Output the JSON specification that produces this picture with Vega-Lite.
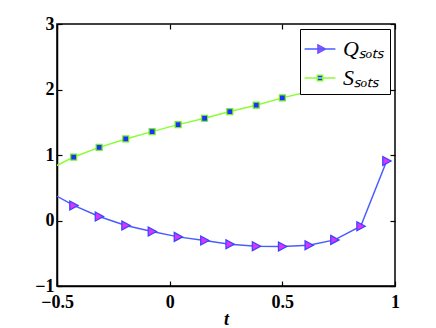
{
  "$schema": "https://vega.github.io/schema/vega-lite/v6.json",
  "width": 338,
  "height": 262,
  "autosize": {"type": "none"},
  "padding": {"left": 57, "top": 24, "right": 41, "bottom": 42},
  "background": "white",
  "config": {
    "view": {"stroke": "black", "strokeWidth": 1.5},
    "axis": {
      "grid": false,
      "domainColor": "black",
      "domainWidth": 1.5,
      "tickColor": "black",
      "tickSize": -5,
      "tickWidth": 1.2,
      "labelFlush": false,
      "labelFont": "Liberation Serif",
      "labelFontWeight": "bold",
      "labelFontSize": 18,
      "labelColor": "black",
      "titleFont": "Liberation Serif",
      "titleFontStyle": "italic",
      "titleFontWeight": "bold",
      "titleFontSize": 18,
      "titleColor": "black"
    }
  },
  "data": {
    "values": [
      {"series": "Q", "t": -0.542, "v": 0.45},
      {"series": "Q", "t": -0.426, "v": 0.23},
      {"series": "Q", "t": -0.313, "v": 0.061},
      {"series": "Q", "t": -0.195, "v": -0.077},
      {"series": "Q", "t": -0.078, "v": -0.168},
      {"series": "Q", "t": 0.0375, "v": -0.25},
      {"series": "Q", "t": 0.155, "v": -0.306},
      {"series": "Q", "t": 0.267, "v": -0.362},
      {"series": "Q", "t": 0.384, "v": -0.393},
      {"series": "Q", "t": 0.5, "v": -0.398},
      {"series": "Q", "t": 0.618, "v": -0.378},
      {"series": "Q", "t": 0.732, "v": -0.296},
      {"series": "Q", "t": 0.848, "v": -0.087},
      {"series": "Q", "t": 0.963, "v": 0.908},
      {"series": "S", "t": -0.542, "v": 0.77},
      {"series": "S", "t": -0.426, "v": 0.969},
      {"series": "S", "t": -0.313, "v": 1.117},
      {"series": "S", "t": -0.195, "v": 1.245},
      {"series": "S", "t": -0.078, "v": 1.357},
      {"series": "S", "t": 0.0375, "v": 1.464},
      {"series": "S", "t": 0.155, "v": 1.561},
      {"series": "S", "t": 0.267, "v": 1.663},
      {"series": "S", "t": 0.384, "v": 1.76},
      {"series": "S", "t": 0.5, "v": 1.872},
      {"series": "S", "t": 0.618, "v": 1.97},
      {"series": "S", "t": 0.732, "v": 2.07},
      {"series": "S", "t": 0.848, "v": 2.17},
      {"series": "S", "t": 0.963, "v": 2.27}
    ]
  },
  "layer": [
    {
      "mark": {"type": "line", "clip": true, "strokeWidth": 1.5},
      "encoding": {
        "x": {
          "field": "t", "type": "quantitative",
          "scale": {"domain": [-0.5, 1], "nice": false, "zero": false},
          "axis": {"values": [-0.5, 0, 0.5, 1], "format": "~g", "title": "t", "labelPadding": 12, "titlePadding": -1}
        },
        "y": {
          "field": "v", "type": "quantitative",
          "scale": {"domain": [-1, 3], "nice": false, "zero": false},
          "axis": {"values": [-1, 0, 1, 2, 3], "format": "d", "title": null, "labelPadding": 8}
        },
        "color": {
          "field": "series", "type": "nominal",
          "scale": {"domain": ["Q", "S"], "range": ["#4a5cff", "#88ff33"]},
          "legend": {
            "title": null,
            "orient": "top-right",
            "offset": 5,
            "padding": 5,
            "rowPadding": 3,
            "fillColor": "white",
            "strokeColor": "black",
            "symbolSize": 784,
            "symbolType": "stroke",
            "labelOffset": 8,
            "labelFont": "Liberation Serif",
            "labelFontStyle": "italic",
            "labelFontSize": 22,
            "labelColor": "black",
            "labelExpr": "datum.value === 'Q' ? 'Q\u209b\u2092\u209c\u209b' : 'S\u209b\u2092\u209c\u209b'",
            "encode": {
              "symbols": {
                "update": {
                  "shape": {"signal": "datum.value === 'Q' ? 'M-1.1,0H1.1M-0.15,-0.3L0.4,0L-0.15,0.3Z' : 'M-1.1,0H1.1M-0.2,-0.2H0.2V0.2H-0.2Z'"},
                  "fill": {"signal": "datum.value === 'Q' ? '#dd33ff' : '#1a33ff'"},
                  "stroke": {"signal": "datum.value === 'Q' ? '#3344ff' : '#77ee22'"},
                  "strokeWidth": {"value": 1.3},
                  "opacity": {"value": 1}
                }
              }
            }
          }
        }
      }
    },
    {
      "mark": {"type": "point", "filled": true, "clip": true, "size": 36, "strokeWidth": 1.2, "opacity": 1},
      "encoding": {
        "x": {
          "field": "t", "type": "quantitative",
          "scale": {"domain": [-0.5, 1], "nice": false, "zero": false},
          "axis": {"orient": "top", "values": [-0.5, 0, 0.5, 1], "labels": false, "domain": false, "title": null}
        },
        "y": {
          "field": "v", "type": "quantitative",
          "scale": {"domain": [-1, 3], "nice": false, "zero": false},
          "axis": {"orient": "right", "values": [-1, 0, 1, 2, 3], "labels": false, "domain": false, "title": null}
        },
        "shape": {
          "condition": {"test": "datum.series === 'Q'", "value": "M-1.3,-1.5L1.5,0L-1.3,1.5Z"},
          "value": "M-1,-1H1V1H-1Z"
        },
        "fill": {
          "condition": {"test": "datum.series === 'Q'", "value": "#dd33ff"},
          "value": "#1a33ff"
        },
        "stroke": {
          "condition": {"test": "datum.series === 'Q'", "value": "#3344ff"},
          "value": "#77ee22"
        }
      }
    }
  ],
  "resolve": {"axis": {"x": "independent", "y": "independent"}}
}
